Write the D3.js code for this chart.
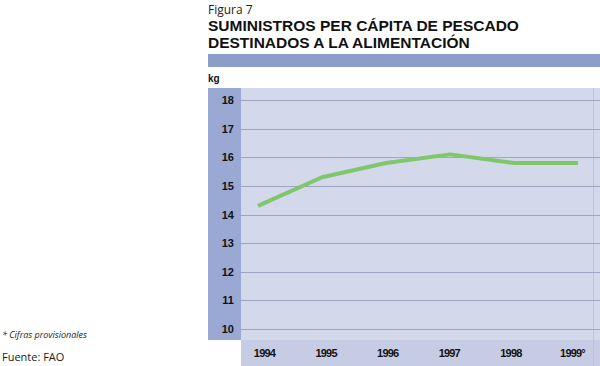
<!DOCTYPE html>
<html lang="es">
<head>
<meta charset="utf-8">
<title>Figura 7</title>
<script src="https://cdn.jsdelivr.net/npm/d3@7"></script>
<style>
  body { margin: 0; background: #fff; }
  svg { font-family: "Liberation Sans", Arial, sans-serif; }
</style>
</head>
<body>
<script>
// datos
var years = ["1994", "1995", "1996", "1997", "1998", "1999"];
var yearLabels = ["1994", "1995", "1996", "1997", "1998", "1999°"];
var supply = [14.3, 15.3, 15.8, 16.1, 15.8, 15.8];
var yTicks = [10, 11, 12, 13, 14, 15, 16, 17, 18];

var w = 600, h = 366;
var svg = d3.select("body").append("svg").attr("width", w).attr("height", h);

// cabecera
svg.append("text").attr("x", 208).attr("y", 14).style("font-size", "12px").attr("fill", "#222")
  .style("font-family", "'Open Sans'").text("Figura 7");
svg.append("text").attr("x", 208).attr("y", 31).attr("font-size", 15.5).attr("font-weight", "bold").attr("fill", "#111")
  .text("SUMINISTROS PER CÁPITA DE PESCADO");
svg.append("text").attr("x", 208).attr("y", 48).attr("font-size", 15.5).attr("font-weight", "bold").attr("fill", "#111")
  .text("DESTINADOS A LA ALIMENTACIÓN");
svg.append("rect").attr("x", 208).attr("y", 54).attr("width", w - 208).attr("height", 13).attr("fill", "#8b9dc9");
svg.append("text").attr("x", 208).attr("y", 82).attr("font-size", 10).attr("font-weight", "bold").attr("fill", "#111").text("kg");

// fondos
var plotTop = 88, plotBottom = 340, plotLeft = 241;
svg.append("rect").attr("x", 208).attr("y", plotTop).attr("width", plotLeft - 208).attr("height", plotBottom - plotTop).attr("fill", "#9aa9d4");
svg.append("rect").attr("x", plotLeft).attr("y", plotTop).attr("width", w - plotLeft).attr("height", plotBottom - plotTop).attr("fill", "#d3d8ea");
svg.append("rect").attr("x", plotLeft).attr("y", plotBottom).attr("width", w - plotLeft).attr("height", h - plotBottom).attr("fill", "#c6cce4");
svg.append("line").attr("x1", 593.5).attr("x2", 593.5).attr("y1", plotTop).attr("y2", h).attr("stroke", "#bcc3dc");

var y = d3.scaleLinear().domain([10, 18]).range([329, 100]);
var x = d3.scalePoint().domain(years).range([258, 578]);
var xl = d3.scalePoint().domain(years).range([264, 572]);

// rejilla
svg.append("g").selectAll("line").data(yTicks).enter().append("line")
  .attr("x1", plotLeft).attr("x2", w)
  .attr("y1", function(d) { return Math.round(y(d)) + 0.5; }).attr("y2", function(d) { return Math.round(y(d)) + 0.5; })
  .attr("stroke", "#9ea4c2").attr("stroke-width", 1);

var yaxis = d3.axisLeft(y).tickValues(yTicks).tickSize(0).tickPadding(0);
var gy = svg.append("g").attr("transform", "translate(234,0)").call(yaxis);
gy.select(".domain").remove();
gy.selectAll("text").attr("font-size", 11).attr("font-weight", "bold").attr("fill", "#111")
  .attr("font-family", "Liberation Sans, Arial, sans-serif");

var xaxis = d3.axisBottom(xl).tickSize(0).tickPadding(0).tickFormat(function(d, i) { return yearLabels[i]; });
var gx = svg.append("g").attr("transform", "translate(0,349)").call(xaxis);
gx.select(".domain").remove();
gx.selectAll("text").attr("font-size", 11).attr("font-weight", "bold").attr("fill", "#111")
  .attr("letter-spacing", -0.8).attr("font-family", "Liberation Sans, Arial, sans-serif");

// línea
var line = d3.line().x(function(d, i) { return x(years[i]); }).y(function(d) { return y(d); });
svg.append("path").datum(supply).attr("d", line).attr("fill", "none")
  .attr("stroke", "#7ec76b").attr("stroke-width", 4).attr("stroke-linejoin", "round");

// notas
svg.append("text").attr("x", 2).attr("y", 338).style("font-size", "9px").style("font-style", "italic").attr("fill", "#222")
  .style("font-family", "'Open Sans'").text("* Cifras provisionales");
svg.append("text").attr("x", 2).attr("y", 361).style("font-size", "11px").attr("fill", "#222")
  .style("font-family", "'Open Sans'").text("Fuente: FAO");
</script>
</body>
</html>
